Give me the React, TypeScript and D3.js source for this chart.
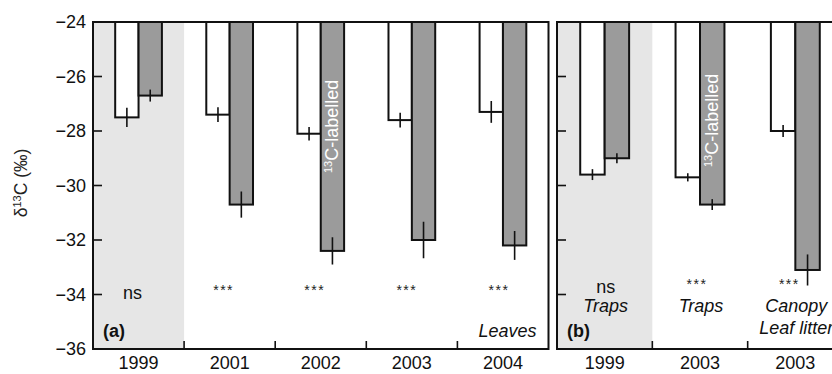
import React from 'react';
import * as d3 from 'd3';

// panel (a): leaves
const yearsA = ['1999', '2001', '2002', '2003', '2004'];
const controlA = [-27.5, -27.4, -28.1, -27.6, -27.3];
const controlErrA = [0.35, 0.27, 0.25, 0.27, 0.4];
const labelledA = [-26.7, -30.7, -32.4, -32.0, -32.2];
const labelledErrA = [0.22, 0.48, 0.5, 0.67, 0.53];
const sigA = ['ns', '***', '***', '***', '***'];

// panel (b): traps / canopy + leaf litter
const yearsB = ['1999', '2003', '2003'];
const controlB = [-29.6, -29.7, -28.0];
const controlErrB = [0.2, 0.15, 0.22];
const labelledB = [-29.0, -30.7, -33.1];
const labelledErrB = [0.18, 0.2, 0.57];
const sigB = ['ns', '***', '***'];
const sourceB = [['Traps'], ['Traps'], ['Canopy', 'Leaf litter']];

const yTicks = [-24, -26, -28, -30, -32, -34, -36];

const width = 832;
const height = 374;
const top = 22;
const bottom = 349;
const font = '"Liberation Sans", Arial, Helvetica, sans-serif';
const grey = '#9b9b9b';
const shade = '#e6e6e6';

const y = d3.scaleLinear().domain([-24, -36]).range([top, bottom]);

type PanelProps = {
  x0: number;
  x1: number;
  years: string[];
  control: number[];
  controlErr: number[];
  labelled: number[];
  labelledErr: number[];
  sig: string[];
  tag: string;
  labelIdx: number;
  labelStart: number;
  sigY: number;
  sigDx: number[];
  source?: string[][];
  corner?: string;
  showTickLabels: boolean;
  clipRight: boolean;
};

const Panel = (p: PanelProps) => {
  const x = d3.scaleBand().domain(p.years.map((_, i) => String(i))).range([p.x0, p.x1]);
  const inner = d3.scaleBand().domain(['c', 'l']).range([0, x.bandwidth()]).paddingOuter(0.95);
  const bw = inner.bandwidth();
  const mid = (i: number) => (x(String(i)) as number) + x.bandwidth() / 2;

  const bars = p.years.map((_, i) => {
    const gx = x(String(i)) as number;
    return [
      { k: 'c', v: p.control[i], e: p.controlErr[i], fill: '#fff', x: gx + (inner('c') as number) },
      { k: 'l', v: p.labelled[i], e: p.labelledErr[i], fill: grey, x: gx + (inner('l') as number) },
    ];
  });

  const lb = bars[p.labelIdx][1];

  return (
    <g>
      {/* shaded pre-labelling year */}
      <rect x={p.x0} y={top} width={x.bandwidth()} height={bottom - top} fill={shade} />
      {bars.map((pair, i) =>
        pair.map((b) => (
          <g key={`${i}${b.k}`}>
            <rect x={b.x} y={y(-24)} width={bw} height={y(b.v) - y(-24)} fill={b.fill} stroke="#111" strokeWidth={2} />
            <line x1={b.x + bw / 2} x2={b.x + bw / 2} y1={y(b.v - b.e)} y2={y(b.v + b.e)} stroke="#111" strokeWidth={1.6} />
          </g>
        ))
      )}
      {/* 13C-labelled text in the bar */}
      <text transform={`translate(${lb.x + bw / 2 + 6},${p.labelStart}) rotate(-90)`} fill="#fff" fontSize={18} fontFamily={font}>
        <tspan fontSize={11} dy={-6}>13</tspan>
        <tspan dy={6}>C-labelled</tspan>
      </text>
      {/* frame */}
      <line x1={p.x0} x2={p.clipRight ? width + 20 : p.x1} y1={top} y2={top} stroke="#111" strokeWidth={2} />
      <line x1={p.x0} x2={p.clipRight ? width + 20 : p.x1} y1={bottom} y2={bottom} stroke="#111" strokeWidth={2} />
      <line x1={p.x0} x2={p.x0} y1={top - 1} y2={bottom + 1} stroke="#111" strokeWidth={2} />
      {!p.clipRight && <line x1={p.x1} x2={p.x1} y1={top - 1} y2={bottom + 1} stroke="#111" strokeWidth={2} />}
      {/* y ticks */}
      {yTicks.map((t) => (
        <g key={t}>
          <line x1={p.x0} x2={p.x0 + 9} y1={y(t)} y2={y(t)} stroke="#111" strokeWidth={1.6} />
          {p.showTickLabels && (
            <text x={p.x0 - 7} y={y(t) + 6} textAnchor="end" fontSize={18} fontFamily={font} fill="#111">
              {'\u2212' + Math.abs(t)}
            </text>
          )}
        </g>
      ))}
      {/* x ticks between groups */}
      {p.years.slice(1).map((_, i) => {
        const gx = x(String(i + 1)) as number;
        return <line key={i} x1={gx} x2={gx} y1={bottom} y2={bottom - 8} stroke="#111" strokeWidth={1.6} />;
      })}
      {p.years.map((yr, i) => (
        <text key={i} x={mid(i)} y={369} textAnchor="middle" fontSize={18} fontFamily={font} fill="#111">
          {yr}
        </text>
      ))}
      {/* significance and sources */}
      {p.sig.map((s, i) =>
        s === 'ns' ? (
          <text key={i} x={mid(i) + p.sigDx[i]} y={p.sigY} textAnchor="middle" fontSize={18} fontFamily={font} fill="#111">
            {s}
          </text>
        ) : (
          <text key={i} x={mid(i) + p.sigDx[i]} y={p.sigY - 4} textAnchor="middle" fontSize={14} letterSpacing={1.5} fontFamily={font} fill="#222">
            {s}
          </text>
        )
      )}
      {p.source &&
        p.source.map((lines, i) =>
          lines.map((l, j) => (
            <text key={`${i}-${j}`} x={mid(i) + 1} y={p.sigY + 19 + j * 22} textAnchor="middle" fontSize={18} fontStyle="italic" fontFamily={font} fill="#111">
              {l}
            </text>
          ))
        )}
      <text x={p.x0 + 10} y={337} fontSize={18} fontWeight="bold" fontFamily={font} fill="#111">
        {p.tag}
      </text>
      {p.corner && (
        <text x={p.x1 - 12} y={337} textAnchor="end" fontSize={18} fontStyle="italic" fontFamily={font} fill="#111">
          {p.corner}
        </text>
      )}
    </g>
  );
};

export default function App() {
  return (
    <svg width={width} height={height} style={{ position: 'absolute', left: 0, top: 0, background: '#fff' }}>
      <rect width={width} height={height} fill="#fff" />
      <Panel
        x0={93}
        x1={548.5}
        years={yearsA}
        control={controlA}
        controlErr={controlErrA}
        labelled={labelledA}
        labelledErr={labelledErrA}
        sig={sigA}
        tag="(a)"
        labelIdx={2}
        labelStart={173}
        sigY={299}
        sigDx={[-6, -6, -6, -5, -4]}
        corner="Leaves"
        showTickLabels={true}
        clipRight={false}
      />
      <Panel
        x0={557}
        x1={843}
        years={yearsB}
        control={controlB}
        controlErr={controlErrB}
        labelled={labelledB}
        labelledErr={labelledErrB}
        sig={sigB}
        tag="(b)"
        labelIdx={1}
        labelStart={167}
        sigY={293}
        sigDx={[1, -3, -6]}
        source={sourceB}
        showTickLabels={false}
        clipRight={true}
      />
      <text transform="translate(27,183) rotate(-90)" textAnchor="middle" fontSize={17.5} fontFamily={font} fill="#222">
        δ<tspan fontSize={11} dy={-6}>13</tspan>
        <tspan dy={6}>C (‰)</tspan>
      </text>
    </svg>
  );
}
